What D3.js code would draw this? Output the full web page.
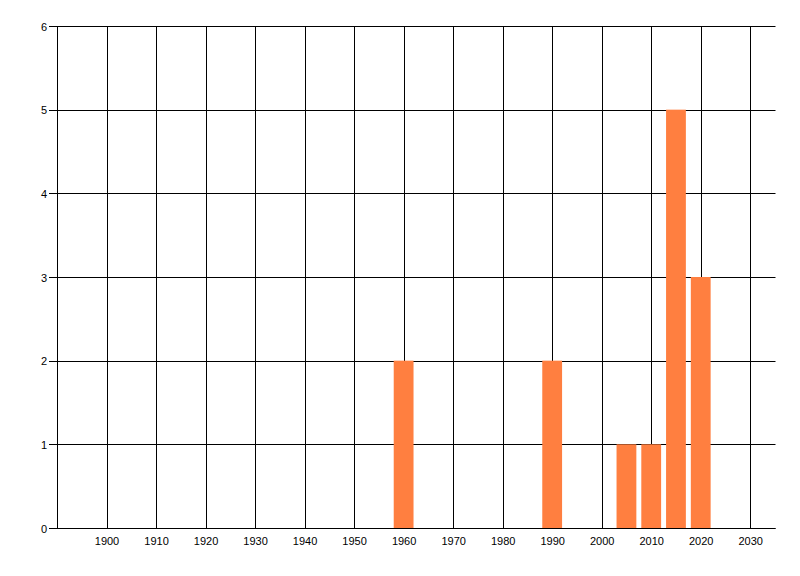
<!DOCTYPE html>
<html><head><meta charset="utf-8">
<script src="https://cdn.jsdelivr.net/npm/d3@7"></script>
<style>body{margin:0;background:#fff}svg{display:block}text{font-family:"Liberation Sans",Arial,sans-serif;font-size:11px;fill:#000}</style>
</head><body>
<script>
const years = [1960, 1990, 2005, 2010, 2015, 2020];
const counts = [2, 2, 1, 1, 5, 3];
const xTicks = [1900,1910,1920,1930,1940,1950,1960,1970,1980,1990,2000,2010,2020,2030];
const yTicks = [0,1,2,3,4,5,6];

const W = 800, H = 576;
const svg = d3.select("body").append("svg").attr("width", W).attr("height", H);
const x = d3.scaleLinear().domain([1890, 2035]).range([57.5, 775.5]);
const y = d3.scaleLinear().domain([0, 6]).range([528.5, 26.5]);
const barW = 4;

// horizontal grid lines + left ticks
svg.append("g").selectAll("line").data(yTicks).join("line")
  .attr("x1", 49).attr("x2", x.range()[1])
  .attr("y1", d => Math.round(y(d) - 0.5) + 0.5).attr("y2", d => Math.round(y(d) - 0.5) + 0.5)
  .attr("stroke", "#000").attr("stroke-width", 1);
// vertical grid lines
svg.append("g").selectAll("line").data(xTicks).join("line")
  .attr("x1", d => Math.round(x(d) - 0.5) + 0.5).attr("x2", d => Math.round(x(d) - 0.5) + 0.5)
  .attr("y1", y(6)).attr("y2", y(0))
  .attr("stroke", "#000").attr("stroke-width", 1);

// bars
svg.append("g").selectAll("rect").data(years).join("rect")
  .attr("x", (d) => x(d - barW / 2) - 0.5)
  .attr("width", (d) => x(d + barW / 2) - x(d - barW / 2))
  .attr("y", (d, i) => y(counts[i]) - 0.5)
  .attr("height", (d, i) => y(0) - y(counts[i]))
  .attr("fill", "#ff7f40");

// left axis line & bottom axis line
svg.append("line").attr("x1", 57.5).attr("x2", 57.5).attr("y1", y(6)).attr("y2", y(0)).attr("stroke", "#000");
svg.append("line").attr("x1", 49).attr("x2", x.range()[1]).attr("y1", y(0)).attr("y2", y(0)).attr("stroke", "#000");

// labels
svg.append("g").selectAll("text").data(yTicks).join("text")
  .attr("x", 47).attr("y", d => y(d) + 4).attr("text-anchor", "end").text(d => d);
svg.append("g").selectAll("text").data(xTicks).join("text")
  .attr("x", d => x(d)).attr("y", 545).attr("text-anchor", "middle").text(d => d);
</script>
</body></html>
